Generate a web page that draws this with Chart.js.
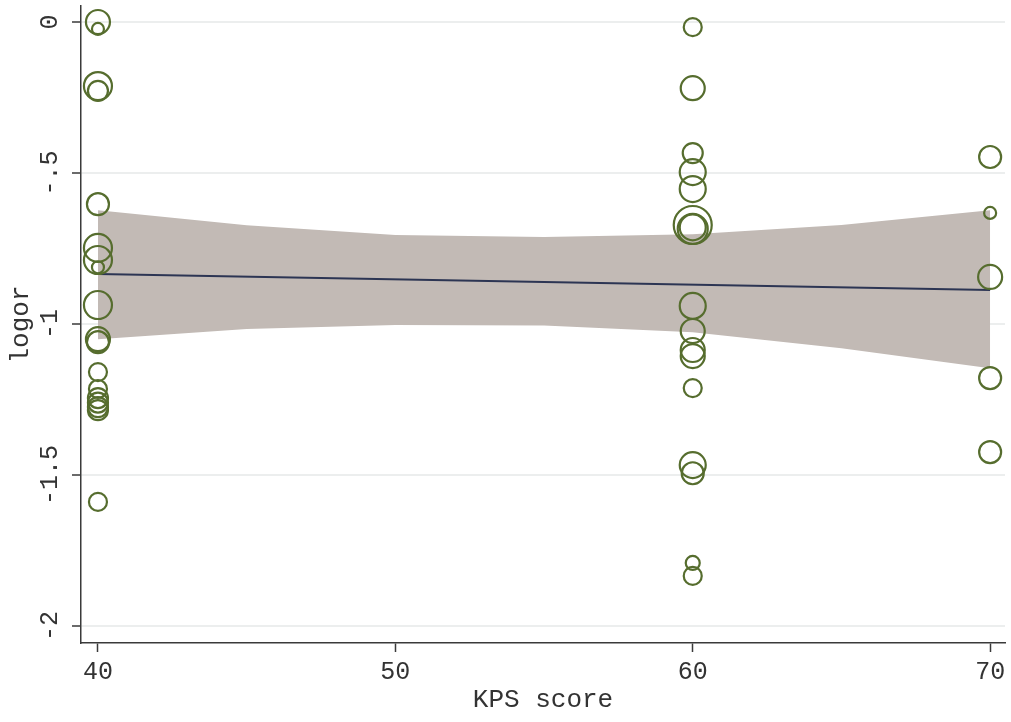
<!DOCTYPE html>
<html>
<head>
<meta charset="utf-8">
<title>logor vs KPS score</title>
<script src="https://cdn.jsdelivr.net/npm/chart.js@4.4.1/dist/chart.umd.min.js"></script>
<style>
  html, body { margin: 0; padding: 0; background: #ffffff; }
  #wrap { width: 1011px; height: 722px; }
</style>
</head>
<body>
<div id="wrap"><canvas id="bubbleChart" width="1011" height="722"></canvas></div>
<script>
// study-level points: KPS score, log odds ratio, weight (marker radius)
const kps = [
    40, 40, 40, 40, 40, 40, 40, 40, 40, 40, 40, 40, 40, 40, 40, 40, 40, 40,
    60, 60, 60, 60, 60, 60, 60, 60, 60, 60, 60, 60, 60, 60, 60, 60, 60,
    70, 70, 70, 70, 70
];
const logor = [
    0.0, -0.023, -0.212, -0.228, -0.603, -0.748, -0.788, -0.812, -0.937, -1.05, -1.06, -1.159, -1.215, -1.245, -1.26, -1.275, -1.285, -1.589,
    -0.017, -0.219, -0.434, -0.497, -0.553, -0.672, -0.685, -0.94, -1.023, -1.086, -1.106, -1.212, -1.467, -1.494, -1.791, -1.834, -0.68,
    -0.447, -0.632, -0.844, -1.179, -1.424
];
const weights = [
    12, 6, 14, 10, 11, 14, 14, 6, 14, 12, 11, 9, 9, 10, 10, 10, 10, 9,
    9, 12, 10, 13, 13, 19, 15, 13, 12, 12, 12, 9, 13, 11, 7, 9, 13,
    11, 6, 12, 11, 11
];

// fitted line and confidence band
const fitX = [40, 70];
const fitY = [-0.834, -0.887];
const bandX = [40, 45, 50, 55, 60, 65, 70];
const bandUpper = [-0.623, -0.673, -0.705, -0.712, -0.703, -0.672, -0.623];
const bandLower = [-1.050, -1.016, -1.003, -1.005, -1.027, -1.080, -1.146];

const xTicks = [40, 50, 60, 70];
const yTicks = [0, -0.5, -1, -1.5, -2];
const yTickLabels = ['0', '-.5', '-1', '-1.5', '-2'];

const FONT = 'Liberation Mono';
const AXIS = '#3a3a3a';
const GRID = '#eceeee';

const bubbles = kps.map((x, i) => ({ x: x, y: logor[i], r: weights[i] }));
const zip = (xs, ys) => xs.map((x, i) => ({ x: x, y: ys[i] }));

// rotated y tick labels, Stata style
const rotatedYLabels = {
    id: 'rotatedYLabels',
    afterDraw(chart) {
        const ctx = chart.ctx;
        const y = chart.scales.y;
        ctx.save();
        ctx.fillStyle = '#333';
        ctx.font = '25px "' + FONT + '"';
        ctx.textAlign = 'center';
        ctx.textBaseline = 'middle';
        yTicks.forEach((v, i) => {
            ctx.save();
            ctx.translate(50, y.getPixelForValue(v));
            ctx.rotate(-Math.PI / 2);
            ctx.fillText(yTickLabels[i], 0, 0);
            ctx.restore();
        });
        ctx.restore();
    }
};

new Chart(document.getElementById('bubbleChart').getContext('2d'), {
    data: {
        datasets: [
            {
                type: 'bubble',
                data: bubbles,
                backgroundColor: 'rgba(0,0,0,0)',
                borderColor: '#566d2e',
                borderWidth: 2.2,
                hoverBorderWidth: 2.2,
                clip: false,
                order: 0
            },
            {
                type: 'line',
                data: zip(fitX, fitY),
                borderColor: '#2c3553',
                borderWidth: 2,
                pointRadius: 0,
                fill: false,
                order: 1
            },
            {
                type: 'line',
                data: zip(bandX, bandUpper),
                borderWidth: 0,
                borderColor: 'rgba(0,0,0,0)',
                backgroundColor: '#c2bab5',
                pointRadius: 0,
                fill: '+1',
                order: 2
            },
            {
                type: 'line',
                data: zip(bandX, bandLower),
                borderWidth: 0,
                borderColor: 'rgba(0,0,0,0)',
                pointRadius: 0,
                fill: false,
                order: 3
            }
        ]
    },
    options: {
        responsive: false,
        animation: false,
        events: [],
        layout: { padding: { top: 6, right: 6, left: 0, bottom: 0 }, autoPadding: false },
        plugins: {
            legend: { display: false },
            tooltip: { enabled: false }
        },
        scales: {
            x: {
                type: 'linear',
                min: 39.43,
                max: 70.5,
                afterBuildTicks: (scale) => { scale.ticks = xTicks.map(v => ({ value: v })); },
                afterFit: (scale) => {
                    scale.height = 79;
                    scale.paddingLeft = 0;
                    scale.paddingRight = 0;
                },
                border: { color: AXIS, width: 1.5 },
                grid: { drawOnChartArea: false, drawTicks: true, tickLength: 9, tickColor: AXIS, tickWidth: 1.5 },
                ticks: {
                    color: '#333',
                    padding: 5,
                    maxRotation: 0,
                    font: { family: FONT, size: 25 }
                },
                title: {
                    display: true,
                    text: 'KPS score',
                    color: '#333',
                    padding: { top: 0, bottom: 6 },
                    font: { family: FONT, size: 26 }
                }
            },
            y: {
                type: 'linear',
                min: -2.056,
                max: 0.053,
                afterBuildTicks: (scale) => { scale.ticks = yTicks.map(v => ({ value: v })); },
                afterFit: (scale) => {
                    scale.width = 81;
                    scale.paddingTop = 0;
                    scale.paddingBottom = 0;
                },
                border: { color: AXIS, width: 1.5 },
                grid: { color: GRID, lineWidth: 2, drawTicks: true, tickLength: 9, tickColor: AXIS, tickWidth: 1.5 },
                ticks: { display: false },
                title: {
                    display: true,
                    text: 'logor',
                    color: '#333',
                    padding: { top: 6, bottom: 0 },
                    font: { family: FONT, size: 26 }
                }
            }
        }
    },
    plugins: [rotatedYLabels]
});
</script>
</body>
</html>
